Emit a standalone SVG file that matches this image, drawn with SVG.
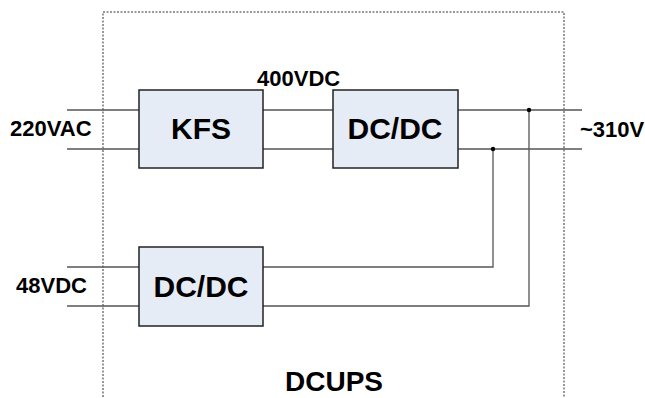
<svg xmlns="http://www.w3.org/2000/svg" width="645" height="398" viewBox="0 0 645 398">
<style>
.box{fill:#e6ecf6;stroke:#222;stroke-width:1.5}
.w{stroke:#555;stroke-width:1.3;fill:none}
.t{font-family:"Liberation Sans",Arial,sans-serif;font-weight:bold;fill:#000}
.dot{fill:#000}
</style>
<rect x="103" y="12" width="461" height="400" fill="none" stroke="#333" stroke-width="1" stroke-dasharray="2,1.5"/>
<g id="connectors">
<line class="w" x1="67" y1="110" x2="139" y2="110"/>
<line class="w" x1="67" y1="149" x2="139" y2="149"/>
<line class="w" x1="263" y1="110" x2="333" y2="110"/>
<line class="w" x1="263" y1="149" x2="333" y2="149"/>
<line class="w" x1="458" y1="110" x2="582" y2="110"/>
<line class="w" x1="458" y1="149" x2="582" y2="149"/>
<line class="w" x1="67" y1="267" x2="139" y2="267"/>
<line class="w" x1="67" y1="306" x2="139" y2="306"/>
<polyline class="w" points="263,267 493,267 493,149"/>
<polyline class="w" points="263,306 529,306 529,110"/>
<circle class="dot" cx="529" cy="110" r="2.2"/>
<circle class="dot" cx="493" cy="149" r="2.2"/>
</g>
<g id="kfs">
<rect class="box" x="139" y="90" width="124" height="78"/>
<text class="t" x="201" y="139" font-size="30" text-anchor="middle">KFS</text>
</g>
<g id="dcdc1">
<rect class="box" x="333" y="90" width="125" height="78"/>
<text class="t" x="395" y="139" font-size="30" text-anchor="middle">DC/DC</text>
</g>
<g id="dcdc2">
<rect class="box" x="139" y="247" width="124" height="79"/>
<text class="t" x="201" y="297" font-size="30" text-anchor="middle">DC/DC</text>
</g>
<text class="t" x="10" y="136" font-size="22">220VAC</text>
<text class="t" x="257" y="86" font-size="22">400VDC</text>
<text class="t" x="580" y="137" font-size="22">~310V</text>
<text class="t" x="16" y="293" font-size="22">48VDC</text>
<text class="t" x="334" y="391" font-size="28" text-anchor="middle">DCUPS</text>
</svg>
